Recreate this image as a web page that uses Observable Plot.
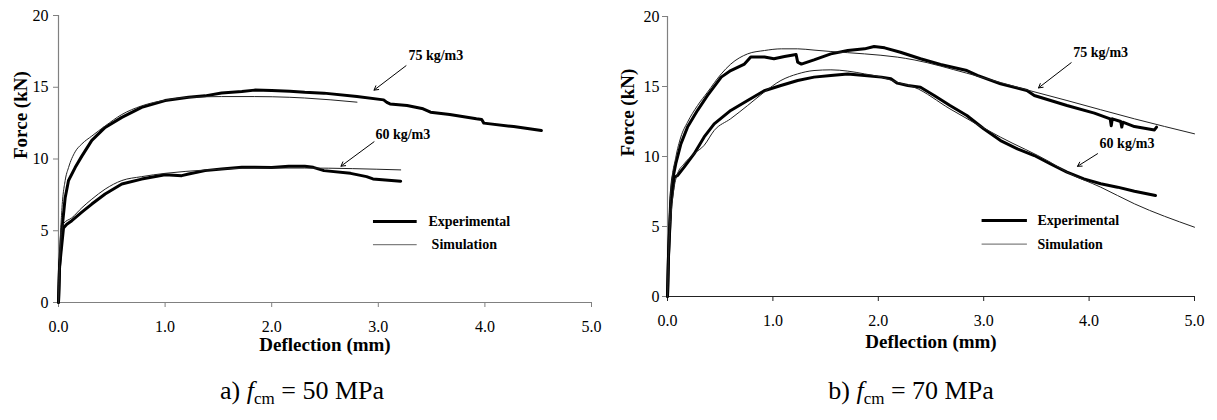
<!DOCTYPE html>
<html>
<head>
<meta charset="utf-8">
<script src="https://cdn.jsdelivr.net/npm/d3@7"></script>
<script src="https://cdn.jsdelivr.net/npm/@observablehq/plot@0.6"></script>
<style>
  html, body { margin: 0; padding: 0; background: #fff; }
  #wrap { position: relative; width: 1217px; height: 420px; overflow: hidden; font-family: "Liberation Serif", "Times New Roman", serif; }
  #wrap svg { overflow: visible; }
  #wrap svg, #wrap svg text { font-family: "Liberation Serif", "Times New Roman", serif !important; }
  .panel { position: absolute; top: 0; }
  .cap { position: absolute; top: 376px; font-size: 26px; line-height: 30px; color: #000; white-space: nowrap; transform: translateX(-50%); }
  .cap sub { font-size: 17px; vertical-align: -5px; line-height: 0; }
</style>
</head>
<body>
<div id="wrap"></div>
<script>
// ---------- axis ticks ----------
const xTicks = [0, 1, 2, 3, 4, 5];
const yTicks = [0, 5, 10, 15, 20];

// ---------- a) fcm = 50 MPa ----------
const a75ExpX = [0, 0.01, 0.031, 0.0625, 0.094, 0.156, 0.219, 0.3125, 0.4375, 0.594, 0.78, 1.0, 1.22, 1.375, 1.53, 1.72, 1.84, 2.0, 2.17, 2.31, 2.49, 2.80, 3.05, 3.08, 3.11, 3.27, 3.42, 3.49, 3.67, 3.92, 3.97, 3.99, 4.27, 4.53];
const a75ExpY = [0, 2.5, 5.0, 7.3, 8.5, 9.4, 10.2, 11.3, 12.2, 12.9, 13.6, 14.07, 14.3, 14.4, 14.6, 14.7, 14.8, 14.77, 14.72, 14.65, 14.59, 14.35, 14.12, 13.95, 13.84, 13.73, 13.5, 13.26, 13.1, 12.8, 12.75, 12.5, 12.26, 11.98];
const a75SimX = [0, 0.01, 0.031, 0.0625, 0.094, 0.156, 0.219, 0.3125, 0.4375, 0.594, 0.78, 1.0, 1.22, 1.53, 1.84, 2.17, 2.31, 2.80];
const a75SimY = [0, 3.0, 6.4, 8.5, 9.4, 10.5, 11.05, 11.6, 12.3, 13.1, 13.7, 14.1, 14.3, 14.35, 14.35, 14.3, 14.25, 13.96];
const a60ExpX = [0, 0.01, 0.047, 0.078, 0.125, 0.219, 0.3125, 0.4375, 0.594, 0.78, 1.0, 1.156, 1.22, 1.375, 1.53, 1.72, 1.84, 2.0, 2.16, 2.31, 2.39, 2.49, 2.74, 2.89, 2.95, 3.21];
const a60ExpY = [0, 2.5, 5.2, 5.45, 5.7, 6.3, 6.86, 7.56, 8.26, 8.6, 8.9, 8.84, 8.95, 9.19, 9.3, 9.42, 9.42, 9.4, 9.5, 9.5, 9.42, 9.19, 9.0, 8.77, 8.61, 8.45];
const a60SimX = [0, 0.01, 0.047, 0.125, 0.219, 0.3125, 0.4375, 0.594, 0.78, 1.0, 1.375, 1.84, 2.31, 3.21];
const a60SimY = [0, 3.0, 5.5, 5.9, 6.6, 7.2, 7.9, 8.5, 8.77, 9.0, 9.23, 9.37, 9.37, 9.24];

// ---------- b) fcm = 70 MPa ----------
const b75ExpX = [0, 0.01, 0.032, 0.047, 0.079, 0.127, 0.19, 0.285, 0.38, 0.51, 0.60, 0.73, 0.79, 0.92, 1.01, 1.11, 1.22, 1.235, 1.27, 1.39, 1.55, 1.71, 1.87, 1.96, 2.06, 2.21, 2.40, 2.59, 2.84, 2.94, 3.16, 3.41, 3.48, 3.79, 4.05, 4.20, 4.21, 4.22, 4.30, 4.31, 4.32, 4.43, 4.62, 4.64];
const b75ExpY = [0, 3.0, 7.1, 8.3, 9.5, 10.9, 12.1, 13.3, 14.36, 15.67, 16.14, 16.6, 17.1, 17.1, 16.98, 17.14, 17.29, 16.74, 16.6, 16.9, 17.33, 17.57, 17.69, 17.86, 17.76, 17.45, 16.98, 16.57, 16.14, 15.79, 15.19, 14.71, 14.36, 13.64, 13.1, 12.69, 12.2, 12.69, 12.5, 12.1, 12.45, 12.14, 11.9, 12.1];
const b75SimX = [0, 0.01, 0.032, 0.079, 0.127, 0.19, 0.285, 0.38, 0.51, 0.60, 0.76, 0.92, 1.08, 1.235, 1.39, 1.55, 1.87, 2.18, 2.34, 2.84, 3.41, 3.79, 4.43, 5.0];
const b75SimY = [0, 3.0, 7.6, 9.95, 11.4, 12.45, 13.64, 14.6, 15.9, 16.6, 17.33, 17.57, 17.69, 17.69, 17.6, 17.5, 17.33, 17.1, 16.9, 15.95, 14.76, 14.0, 12.69, 11.62];
const b60ExpX = [0, 0.01, 0.032, 0.063, 0.095, 0.158, 0.253, 0.348, 0.443, 0.60, 0.76, 0.918, 1.076, 1.235, 1.39, 1.55, 1.71, 1.87, 2.03, 2.12, 2.18, 2.28, 2.40, 2.53, 2.68, 2.84, 3.0, 3.16, 3.32, 3.48, 3.63, 3.79, 3.95, 4.11, 4.27, 4.43, 4.63];
const b60ExpY = [0, 3.0, 6.6, 8.5, 8.64, 9.24, 10.2, 11.4, 12.33, 13.29, 14.0, 14.7, 15.07, 15.43, 15.67, 15.79, 15.9, 15.79, 15.67, 15.55, 15.24, 15.07, 14.95, 14.36, 13.64, 12.93, 11.98, 11.14, 10.55, 10.07, 9.48, 8.88, 8.40, 8.05, 7.81, 7.52, 7.21];
const b60SimX = [0, 0.01, 0.032, 0.063, 0.095, 0.158, 0.253, 0.348, 0.443, 0.60, 0.76, 0.918, 1.076, 1.235, 1.39, 1.55, 1.71, 1.87, 2.03, 2.18, 2.34, 2.68, 3.16, 3.63, 3.79, 4.11, 4.43, 5.0];
const b60SimY = [0, 3.0, 5.67, 7.8, 8.76, 9.48, 10.2, 10.8, 11.86, 12.7, 13.64, 14.6, 15.43, 15.9, 16.14, 16.19, 16.1, 15.9, 15.67, 15.3, 14.95, 13.4, 11.38, 9.6, 8.88, 7.81, 6.62, 4.95];

// ---------- annotations (data coordinates) ----------
const seriesLabels = ["75 kg/m3", "60 kg/m3"];
const aLabelX = [3.54, 3.23], aLabelY = [17.2, 11.7];
const aArrowX1 = [3.26, 2.96], aArrowY1 = [16.5, 11.2], aArrowX2 = [2.96, 2.65], aArrowY2 = [14.8, 9.5];
const bLabelX = [4.11, 4.36], bLabelY = [17.45, 10.95];
const bArrowX1 = [3.83, 4.08], bArrowY1 = [16.7, 10.2], bArrowX2 = [3.52, 3.89], bArrowY2 = [14.9, 9.3];

// ---------- legend ----------
const legendNames = ["Experimental", "Simulation"];
const aLegX1 = 2.95, aLegX2 = 3.36, aLegY = [5.65, 4.03], aLegTextX = [3.47, 3.50];
const bLegX1 = 2.98, bLegX2 = 3.41, bLegY = [5.43, 3.74], bLegTextX = [3.51, 3.51];

const captions = ["a)", "b)"];
const captionValues = ["50 MPa", "70 MPa"];

const rows = (xs, ys) => xs.map((x, i) => ({x, y: ys[i]}));
const serif = "'Liberation Serif', 'Times New Roman', serif";

function panel(cfg) {
  const ann = seriesLabels.map((t, i) => ({t, x: cfg.labX[i], y: cfg.labY[i], x1: cfg.ax1[i], y1: cfg.ay1[i], x2: cfg.ax2[i], y2: cfg.ay2[i]}));
  const leg = legendNames.map((t, i) => ({t, x1: cfg.legX1, x2: cfg.legX2, y: cfg.legY[i], tx: cfg.legTX[i], w: i === 0 ? 3 : 1.2, c: i === 0 ? "#000" : "#808080"}));
  return Plot.plot({
    width: 600, height: 360,
    marginLeft: 58, marginRight: cfg.mr, marginTop: cfg.mt, marginBottom: cfg.mb,
    x: {domain: [0, 5]},
    y: {domain: [0, 20]},
    style: {fontFamily: serif, fontSize: "16px", color: "#000", background: "transparent", overflow: "visible"},
    marks: [
      Plot.ruleY([0], {stroke: cfg.xAxisColor, strokeWidth: 1.2}),
      Plot.ruleX([0], {stroke: "#808080", strokeWidth: 1.2}),
      Plot.axisX({ticks: xTicks, tickFormat: d => d.toFixed(1), tickSize: 5, tickPadding: 13, stroke: cfg.xAxisColor, fill: "#000", label: null, fontSize: 16, fontFamily: serif}),
      Plot.axisY({ticks: yTicks, tickFormat: d => String(d), tickSize: 5, tickPadding: cfg.yPad, stroke: "#808080", fill: "#000", label: null, fontSize: 16, fontFamily: serif}),
      Plot.line(rows(cfg.e75x, cfg.e75y), {x: "x", y: "y", stroke: "#000", strokeWidth: 3, strokeLinejoin: "round"}),
      Plot.line(rows(cfg.e60x, cfg.e60y), {x: "x", y: "y", stroke: "#000", strokeWidth: 3, strokeLinejoin: "round"}),
      Plot.line(rows(cfg.s75x, cfg.s75y), {x: "x", y: "y", stroke: "#222", strokeWidth: 1, curve: "monotone-x"}),
      Plot.line(rows(cfg.s60x, cfg.s60y), {x: "x", y: "y", stroke: "#222", strokeWidth: 1, curve: "monotone-x"}),
      Plot.arrow(ann, {x1: "x1", y1: "y1", x2: "x2", y2: "y2", stroke: "#000", strokeWidth: 1, headLength: 7}),
      Plot.text(ann, {x: "x", y: "y", text: "t", fontWeight: "bold", fontSize: 14, fill: "#000", fontFamily: serif}),
      Plot.link(leg, {x1: "x1", x2: "x2", y1: "y", y2: "y", stroke: "c", strokeWidth: "w"}),
      Plot.text(leg, {x: "tx", y: "y", text: "t", textAnchor: "start", fontWeight: "bold", fontSize: 14, fill: "#000", fontFamily: serif}),
      Plot.text(["Deflection (mm)"], {frameAnchor: "bottom", dy: cfg.xLabDy, text: d => d, fontWeight: "bold", fontSize: 19, fill: "#000", fontFamily: serif}),
      Plot.text(["Force (kN)"], {frameAnchor: "left", dx: cfg.yLabDx, rotate: -90, text: d => d, fontWeight: "bold", fontSize: 19, fill: "#000", fontFamily: serif})
    ]
  });
}

const wrap = document.getElementById("wrap");

function place(svg, x) {
  svg.classList.add("panel");
  svg.style.left = x + "px";
  svg.style.overflow = "visible";
  svg.querySelectorAll("text, g").forEach(t => t.style.setProperty("font-family", serif, "important"));
  wrap.appendChild(svg);
}

place(panel({
  mr: 9, mt: 15, mb: 58, yPad: 5, xLabDy: 48, yLabDx: -38, xAxisColor: "#808080",
  e75x: a75ExpX, e75y: a75ExpY, s75x: a75SimX, s75y: a75SimY,
  e60x: a60ExpX, e60y: a60ExpY, s60x: a60SimX, s60y: a60SimY,
  labX: aLabelX, labY: aLabelY, ax1: aArrowX1, ay1: aArrowY1, ax2: aArrowX2, ay2: aArrowY2,
  legX1: aLegX1, legX2: aLegX2, legY: aLegY, legTX: aLegTextX
}), 0);

place(panel({
  mr: 15, mt: 16, mb: 64, yPad: 3, xLabDy: 51, yLabDx: -40, xAxisColor: "#222",
  e75x: b75ExpX, e75y: b75ExpY, s75x: b75SimX, s75y: b75SimY,
  e60x: b60ExpX, e60y: b60ExpY, s60x: b60SimX, s60y: b60SimY,
  labX: bLabelX, labY: bLabelY, ax1: bArrowX1, ay1: bArrowY1, ax2: bArrowX2, ay2: bArrowY2,
  legX1: bLegX1, legX2: bLegX2, legY: bLegY, legTX: bLegTextX
}), 609);

const capX = [302, 911];
captions.forEach((c, i) => {
  const d = document.createElement("div");
  d.className = "cap";
  d.style.left = capX[i] + "px";
  d.innerHTML = c + " <i>f</i><sub>cm</sub> = " + captionValues[i];
  wrap.appendChild(d);
});
</script>
</body>
</html>
